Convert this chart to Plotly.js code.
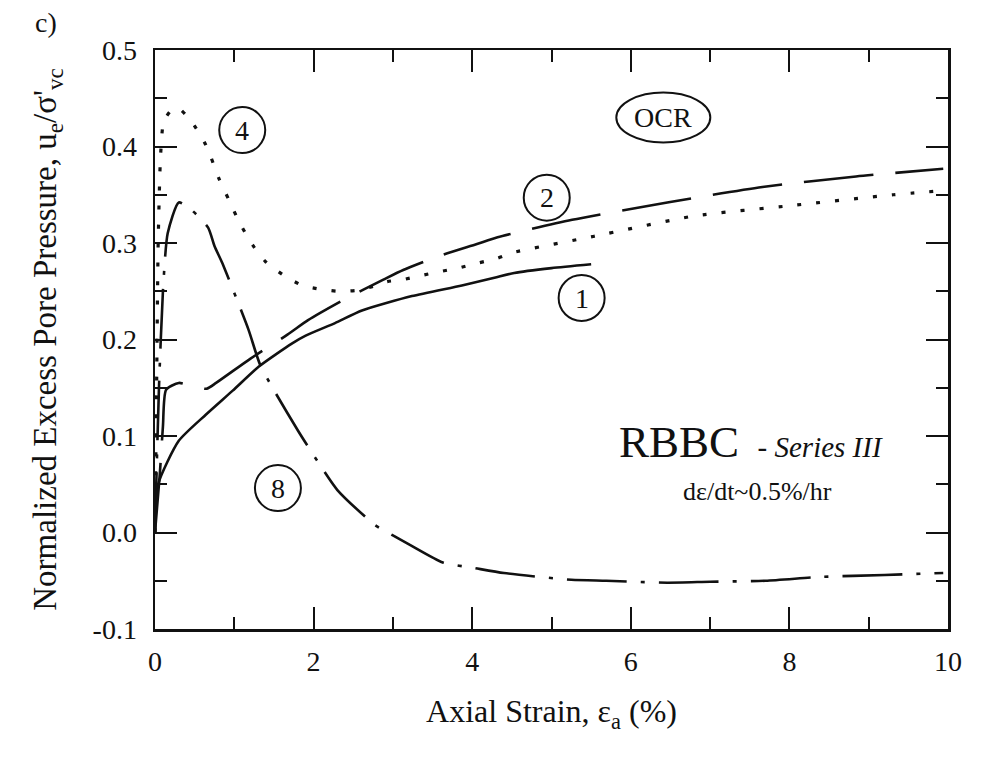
<!DOCTYPE html>
<html><head><meta charset="utf-8">
<script src="https://cdn.plot.ly/plotly-3.0.1.min.js"></script>
<style>html,body{margin:0;padding:0;background:#fff}#chart{width:981px;height:757px}</style>
</head><body><div id="chart"></div>
<script>
// OCR = 1 (solid)
const ocr1X = [0, 0.04, 0.3, 0.64, 0.98, 1.31, 1.73, 1.9, 2.27, 2.61, 3.24, 3.87, 4.28, 4.53, 5.0, 5.5];
const ocr1Y = [0, 0.05, 0.095, 0.122, 0.147, 0.172, 0.196, 0.204, 0.217, 0.23, 0.245, 0.256, 0.264, 0.269, 0.274, 0.278];
// OCR = 2 (long dash)
const ocr2X = [0, 0.06, 0.1, 0.14, 0.3, 0.5, 0.65, 0.77, 1.2, 1.67, 1.93, 2.4, 2.88, 3.13, 3.6, 4.06, 4.32, 5.26, 6.46, 7.66, 8.84, 9.94];
const ocr2Y = [0, 0.06, 0.11, 0.148, 0.155, 0.151, 0.149, 0.155, 0.18, 0.205, 0.22, 0.242, 0.262, 0.272, 0.287, 0.299, 0.306, 0.324, 0.342, 0.358, 0.369, 0.377];
// OCR = 4 (dotted)
const ocr4X = [0, 0.02, 0.04, 0.07, 0.11, 0.2, 0.29, 0.45, 0.62, 0.7, 0.8, 0.93, 1.06, 1.23, 1.39, 1.65, 1.86, 2.09, 2.31, 2.55, 2.75, 2.93, 3.12, 3.34, 3.57, 3.82, 4.06, 4.31, 4.51, 5.54, 6.8, 8.05, 9.31, 9.9];
const ocr4Y = [0, 0.15, 0.3, 0.39, 0.426, 0.437, 0.44, 0.427, 0.405, 0.39, 0.368, 0.345, 0.322, 0.298, 0.281, 0.265, 0.256, 0.252, 0.25, 0.251, 0.255, 0.26, 0.262, 0.266, 0.27, 0.274, 0.279, 0.284, 0.29, 0.307, 0.328, 0.339, 0.35, 0.354];
// OCR = 8 (dash-dot)
const ocr8X = [0, 0.05, 0.1, 0.16, 0.3, 0.45, 0.67, 0.75, 0.85, 1.18, 1.33, 1.8, 2.08, 2.3, 2.77, 3.0, 3.22, 3.63, 4.04, 4.4, 5.25, 5.69, 6.46, 7.0, 7.7, 8.4, 9.2, 9.94];
const ocr8Y = [0, 0.15, 0.25, 0.31, 0.342, 0.335, 0.316, 0.297, 0.279, 0.21, 0.173, 0.106, 0.07, 0.044, 0.008, -0.003, -0.013, -0.031, -0.037, -0.042, -0.049, -0.05, -0.052, -0.051, -0.05, -0.046, -0.044, -0.042];
// Circled OCR labels
const labelText = ['4', '2', '1', '8'];
const labelX = [1.1, 4.94, 5.38, 1.55];
const labelY = [0.417, 0.347, 0.243, 0.046];
// Axis ticks
const xTickVals = [0, 2, 4, 6, 8, 10];
const xTickText = ['0', '2', '4', '6', '8', '10'];
const yTickVals = [-0.1, 0, 0.1, 0.2, 0.3, 0.4, 0.5];
const yTickText = ['-0.1', '0.0', '0.1', '0.2', '0.3', '0.4', '0.5'];

const serif = 'Liberation Serif, Times New Roman, serif';
const lc = '#111';

const traces = [
  {x: ocr1X, y: ocr1Y, mode: 'lines', line: {color: lc, width: 2.6, shape: 'spline', smoothing: 0.6}},
  {x: ocr2X, y: ocr2Y, mode: 'lines', line: {color: lc, width: 2.6, dash: '70px,22px', shape: 'spline', smoothing: 0.6}},
  {x: ocr4X, y: ocr4Y, mode: 'lines', line: {color: lc, width: 3.2, dash: '4px,15px', shape: 'spline', smoothing: 0.6}},
  {x: ocr8X, y: ocr8Y, mode: 'lines', line: {color: lc, width: 2.6, dash: '60px,14px,4px,14px', shape: 'spline', smoothing: 0.6}}
];

const shapes = labelText.map((t, i) => ({
  type: 'circle', xref: 'x', yref: 'y', xsizemode: 'pixel', ysizemode: 'pixel',
  xanchor: labelX[i], yanchor: labelY[i], x0: -23, x1: 23, y0: -23, y1: 23,
  line: {color: lc, width: 2}
}));
shapes.push({
  type: 'circle', xref: 'x', yref: 'y', xsizemode: 'pixel', ysizemode: 'pixel',
  xanchor: 6.41, yanchor: 0.43, x0: -47, x1: 47, y0: -25, y1: 25,
  line: {color: lc, width: 2}
});

const annotations = labelText.map((t, i) => ({
  x: labelX[i], y: labelY[i], xref: 'x', yref: 'y', text: t, showarrow: false,
  font: {family: serif, size: 28, color: lc}
}));
annotations.push(
  {x: 6.41, y: 0.43, xref: 'x', yref: 'y', text: 'OCR', showarrow: false, font: {family: serif, size: 28, color: lc}},
  {x: 9.2, y: 0.094, xref: 'x', yref: 'y', xanchor: 'right', text: 'RBBC <span style="font-size:29px"> - <i>Series III</i></span>', showarrow: false, font: {family: serif, size: 45, color: lc}},
  {x: 7.6, y: 0.042, xref: 'x', yref: 'y', text: 'dε/dt~0.5%/hr', showarrow: false, font: {family: serif, size: 26, color: lc}},
  {x: 0, y: 1, xref: 'paper', yref: 'paper', xanchor: 'center', yanchor: 'middle', xshift: 46 - 155, yshift: 50 - 22, text: 'c)', showarrow: false, font: {family: serif, size: 28, color: lc}}
);

const axisCommon = {
  showline: true, linecolor: lc, linewidth: 2.5, mirror: 'allticks',
  ticks: 'inside', ticklen: 22, tickwidth: 2, tickcolor: lc,
  showgrid: false, zeroline: false, tickmode: 'array',
  tickfont: {family: serif, size: 28, color: lc}
};

const layout = {
  width: 981, height: 757,
  margin: {l: 155, r: 33, t: 50, b: 128},
  paper_bgcolor: '#fff', plot_bgcolor: '#fff',
  showlegend: false,
  xaxis: Object.assign({}, axisCommon, {
    range: [0, 10], tickvals: xTickVals, ticktext: xTickText, ticklabelstandoff: 6,
    minor: {dtick: 1, ticks: 'inside', ticklen: 12, tickwidth: 2, tickcolor: lc},
    title: {text: 'Axial Strain, ε<sub>a</sub> (%)', font: {family: serif, size: 32, color: lc}, standoff: 24}
  }),
  yaxis: Object.assign({}, axisCommon, {
    range: [-0.1, 0.5], tickvals: yTickVals, ticktext: yTickText, ticklabelstandoff: 10,
    minor: {dtick: 0.05, tick0: 0, ticks: 'inside', ticklen: 12, tickwidth: 2, tickcolor: lc},
    title: {text: "Normalized Excess Pore Pressure, u<sub>e</sub>/σ'<sub>vc</sub>", font: {family: serif, size: 33, color: lc}, standoff: 26}
  }),
  shapes: shapes,
  annotations: annotations
};

Plotly.newPlot('chart', traces, layout, {displayModeBar: false, staticPlot: true});
</script></body></html>
